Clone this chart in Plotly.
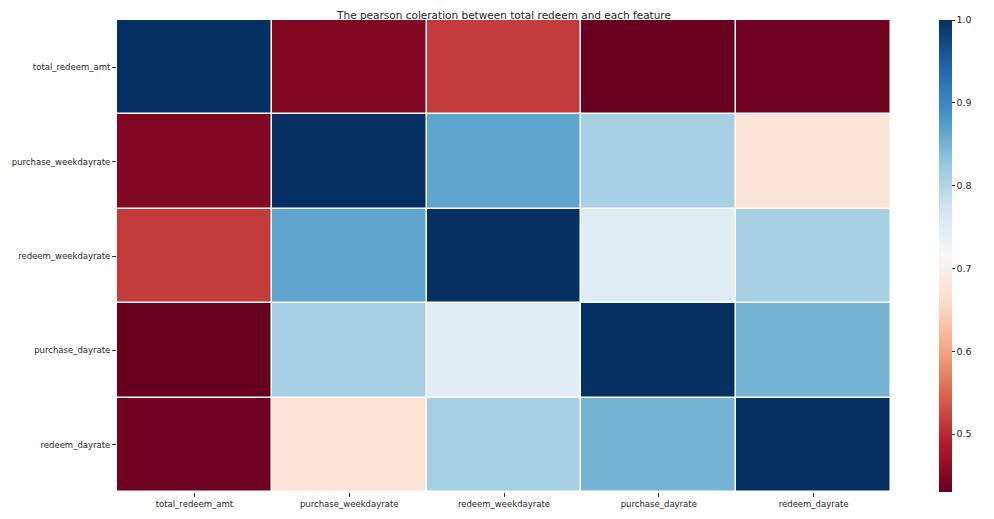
import plotly.graph_objects as go

features = ["total_redeem_amt", "purchase_weekdayrate", "redeem_weekdayrate",
            "purchase_dayrate", "redeem_dayrate"]

row_total_redeem_amt = [1.00, 0.45, 0.515, 0.43, 0.435]
row_purchase_weekdayrate = [0.45, 1.00, 0.865, 0.81, 0.675]
row_redeem_weekdayrate = [0.515, 0.865, 1.00, 0.75, 0.81]
row_purchase_dayrate = [0.43, 0.81, 0.75, 1.00, 0.85]
row_redeem_dayrate = [0.435, 0.675, 0.81, 0.85, 1.00]

z = [row_total_redeem_amt, row_purchase_weekdayrate, row_redeem_weekdayrate,
     row_purchase_dayrate, row_redeem_dayrate]

rdbu = ['rgb(103,0,31)', 'rgb(178,24,43)', 'rgb(214,96,77)', 'rgb(244,165,130)',
        'rgb(253,219,199)', 'rgb(247,247,247)', 'rgb(209,229,240)', 'rgb(146,197,222)',
        'rgb(67,147,195)', 'rgb(33,102,172)', 'rgb(5,48,97)']
colorscale = [[i / (len(rdbu) - 1), c] for i, c in enumerate(rdbu)]

fig = go.Figure(go.Heatmap(
    z=z, x=features, y=features,
    colorscale=colorscale, zmin=0.43, zmax=1.0,
    xgap=1.5, ygap=1.5,
    colorbar=dict(
        thickness=13, len=472, lenmode="pixels", x=1.062, xanchor="left",
        y=0.5, yanchor="middle", outlinewidth=0, ypad=0, xpad=0,
        tickvals=[0.5, 0.6, 0.7, 0.8, 0.9, 1.0],
        ticktext=["0.5", "0.6", "0.7", "0.8", "0.9", "1.0"],
        ticks="outside", ticklen=3, tickcolor="#333",
        tickfont=dict(family="DejaVu Sans", size=9.5, color="#262626"),
    ),
))

fig.update_layout(
    width=994, height=519,
    margin=dict(l=109, r=111, t=12, b=35, autoexpand=False),
    paper_bgcolor="white", plot_bgcolor="white",
    title=dict(text="The pearson coleration between total redeem and each feature",
               x=0.5, xref="paper", xanchor="center", y=1 - 7 / 519, yref="container",
               yanchor="middle",
               font=dict(family="DejaVu Sans", size=10.5, color="#262626")),
    font=dict(family="DejaVu Sans", size=9, color="#262626"),
)
fig.update_xaxes(ticks="outside", ticklen=4, tickcolor="#333", showgrid=False,
                 zeroline=False, automargin=False, tickfont=dict(size=8.5))
fig.update_yaxes(autorange="reversed", ticks="outside", ticklen=4, tickcolor="#333",
                 showgrid=False, zeroline=False, automargin=False, tickfont=dict(size=8.5))

fig.write_html("out.html")
